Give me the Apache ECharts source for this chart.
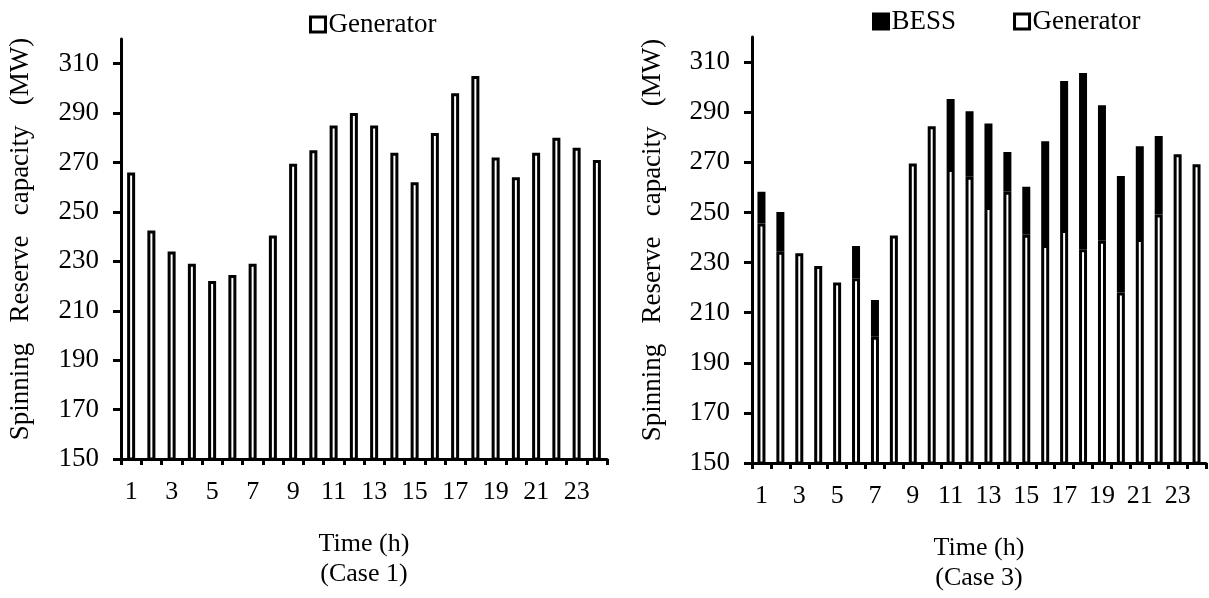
<!DOCTYPE html>
<html>
<head>
<meta charset="utf-8">
<script src="https://cdn.jsdelivr.net/npm/echarts@6/dist/echarts.min.js"></script>
<style>
  html, body { margin: 0; padding: 0; background: #ffffff; }
  #chart { width: 1209px; height: 598px; }
</style>
</head>
<body>
<div id="chart"></div>
<script>
// Hours of the day
const hours = Array.from({ length: 24 }, (_, i) => String(i + 1));

// Case 1: spinning reserve from generators only (MW)
const case1Generator = [266, 242.5, 234, 229, 222, 224.5, 229, 240.5, 269.5, 275, 285, 290,
                        285, 274, 262, 282, 298, 305, 272, 264, 274, 280, 276, 271];

// Case 3: generator share and battery (BESS) share, stacked (MW)
const case3Generator = [245.6, 234.3, 233.7, 228.6, 222.0, 223.7, 200.4, 240.8, 269.5, 284.4, 267.3, 264.2,
                        252.2, 258.2, 241.1, 237.0, 243.0, 235.3, 238.7, 218.0, 239.4, 249.2, 273.2, 269.2];
const case3Bess = [12.6, 15.9, null, null, null, 12.9, 14.6, null, null, null, 28.0, 26.2,
                   33.3, 15.9, 19.1, 41.4, 59.4, 70.3, 54.1, 46.5, 37.0, 31.3, null, null];

// Value-axis tick positions
const yTicks = [150, 170, 190, 210, 230, 250, 270, 290, 310];

const FONT = 'Liberation Serif';
const yTitle = 'Spinning   Reserve   capacity   (MW)';

function xAxisCfg(gridIndex, caseName) {
  return {
    type: 'category',
    gridIndex: gridIndex,
    data: hours,
    boundaryGap: true,
    name: 'Time (h)\n(Case ' + caseName + ')',
    nameLocation: 'middle',
    nameGap: 70,
    nameTextStyle: { fontFamily: FONT, fontSize: 26, color: '#000', lineHeight: 30 },
    axisLine: { lineStyle: { color: '#000', width: 3 } },
    axisTick: { show: true, interval: 0, length: 6, lineStyle: { color: '#000', width: 3 } },
    axisLabel: { interval: 1, margin: 20, fontFamily: FONT, fontSize: 26, color: '#000' },
    splitLine: { show: false }
  };
}

function yAxisCfg(gridIndex, nameGap) {
  return {
    type: 'value',
    gridIndex: gridIndex,
    min: 150,
    max: 320,
    name: yTitle,
    nameLocation: 'middle',
    nameRotate: 90,
    nameGap: nameGap,
    nameTextStyle: { fontFamily: FONT, fontSize: 27, color: '#000', padding: [0, 0, 0, 20] },
    axisLine: { show: true, lineStyle: { color: '#000', width: 3 } },
    axisTick: { show: true, customValues: yTicks, length: 8, lineStyle: { color: '#000', width: 3 } },
    axisLabel: { customValues: yTicks, margin: 22, fontFamily: FONT, fontSize: 27, color: '#000' },
    splitLine: { show: false }
  };
}

const genStyle = { color: '#ffffff', borderColor: '#000000', borderWidth: 3 };
const bessStyle = { color: '#000000', borderColor: '#000000', borderWidth: 3 };

const legendText = { fontFamily: FONT, fontSize: 27, color: '#000', padding: [0, 0, 0, -2] };

const option = {
  animation: false,
  backgroundColor: '#ffffff',
  grid: [
    { left: 121, right: 602, top: 39, bottom: 139 },
    { left: 752, right: 3, top: 37, bottom: 134 }
  ],
  legend: [
    {
      data: ['Generator'],
      left: 304, top: 6,
      icon: 'rect', itemWidth: 15, itemHeight: 15,
      itemStyle: { borderWidth: 3, borderColor: '#000' },
      textStyle: legendText,
      selectedMode: false
    },
    {
      data: ['BESS', 'Generator '],
      left: 867, top: 3,
      icon: 'rect', itemWidth: 15, itemHeight: 15, itemGap: 57,
      itemStyle: { borderWidth: 3, borderColor: '#000' },
      textStyle: legendText,
      selectedMode: false
    }
  ],
  xAxis: [xAxisCfg(0, '1'), xAxisCfg(1, '3')],
  yAxis: [yAxisCfg(0, 87), yAxisCfg(1, 86)],
  series: [
    {
      name: 'Generator',
      type: 'bar',
      xAxisIndex: 0, yAxisIndex: 0,
      data: case1Generator,
      barWidth: 8,
      itemStyle: genStyle
    },
    {
      name: 'Generator ',
      type: 'bar',
      xAxisIndex: 1, yAxisIndex: 1,
      stack: 'case3',
      data: case3Generator,
      barWidth: 8,
      itemStyle: genStyle
    },
    {
      name: 'BESS',
      type: 'bar',
      xAxisIndex: 1, yAxisIndex: 1,
      stack: 'case3',
      data: case3Bess,
      barWidth: 8,
      itemStyle: bessStyle
    }
  ]
};

const chart = echarts.init(document.getElementById('chart'), null, { renderer: 'canvas' });
chart.setOption(option);
</script>
</body>
</html>
